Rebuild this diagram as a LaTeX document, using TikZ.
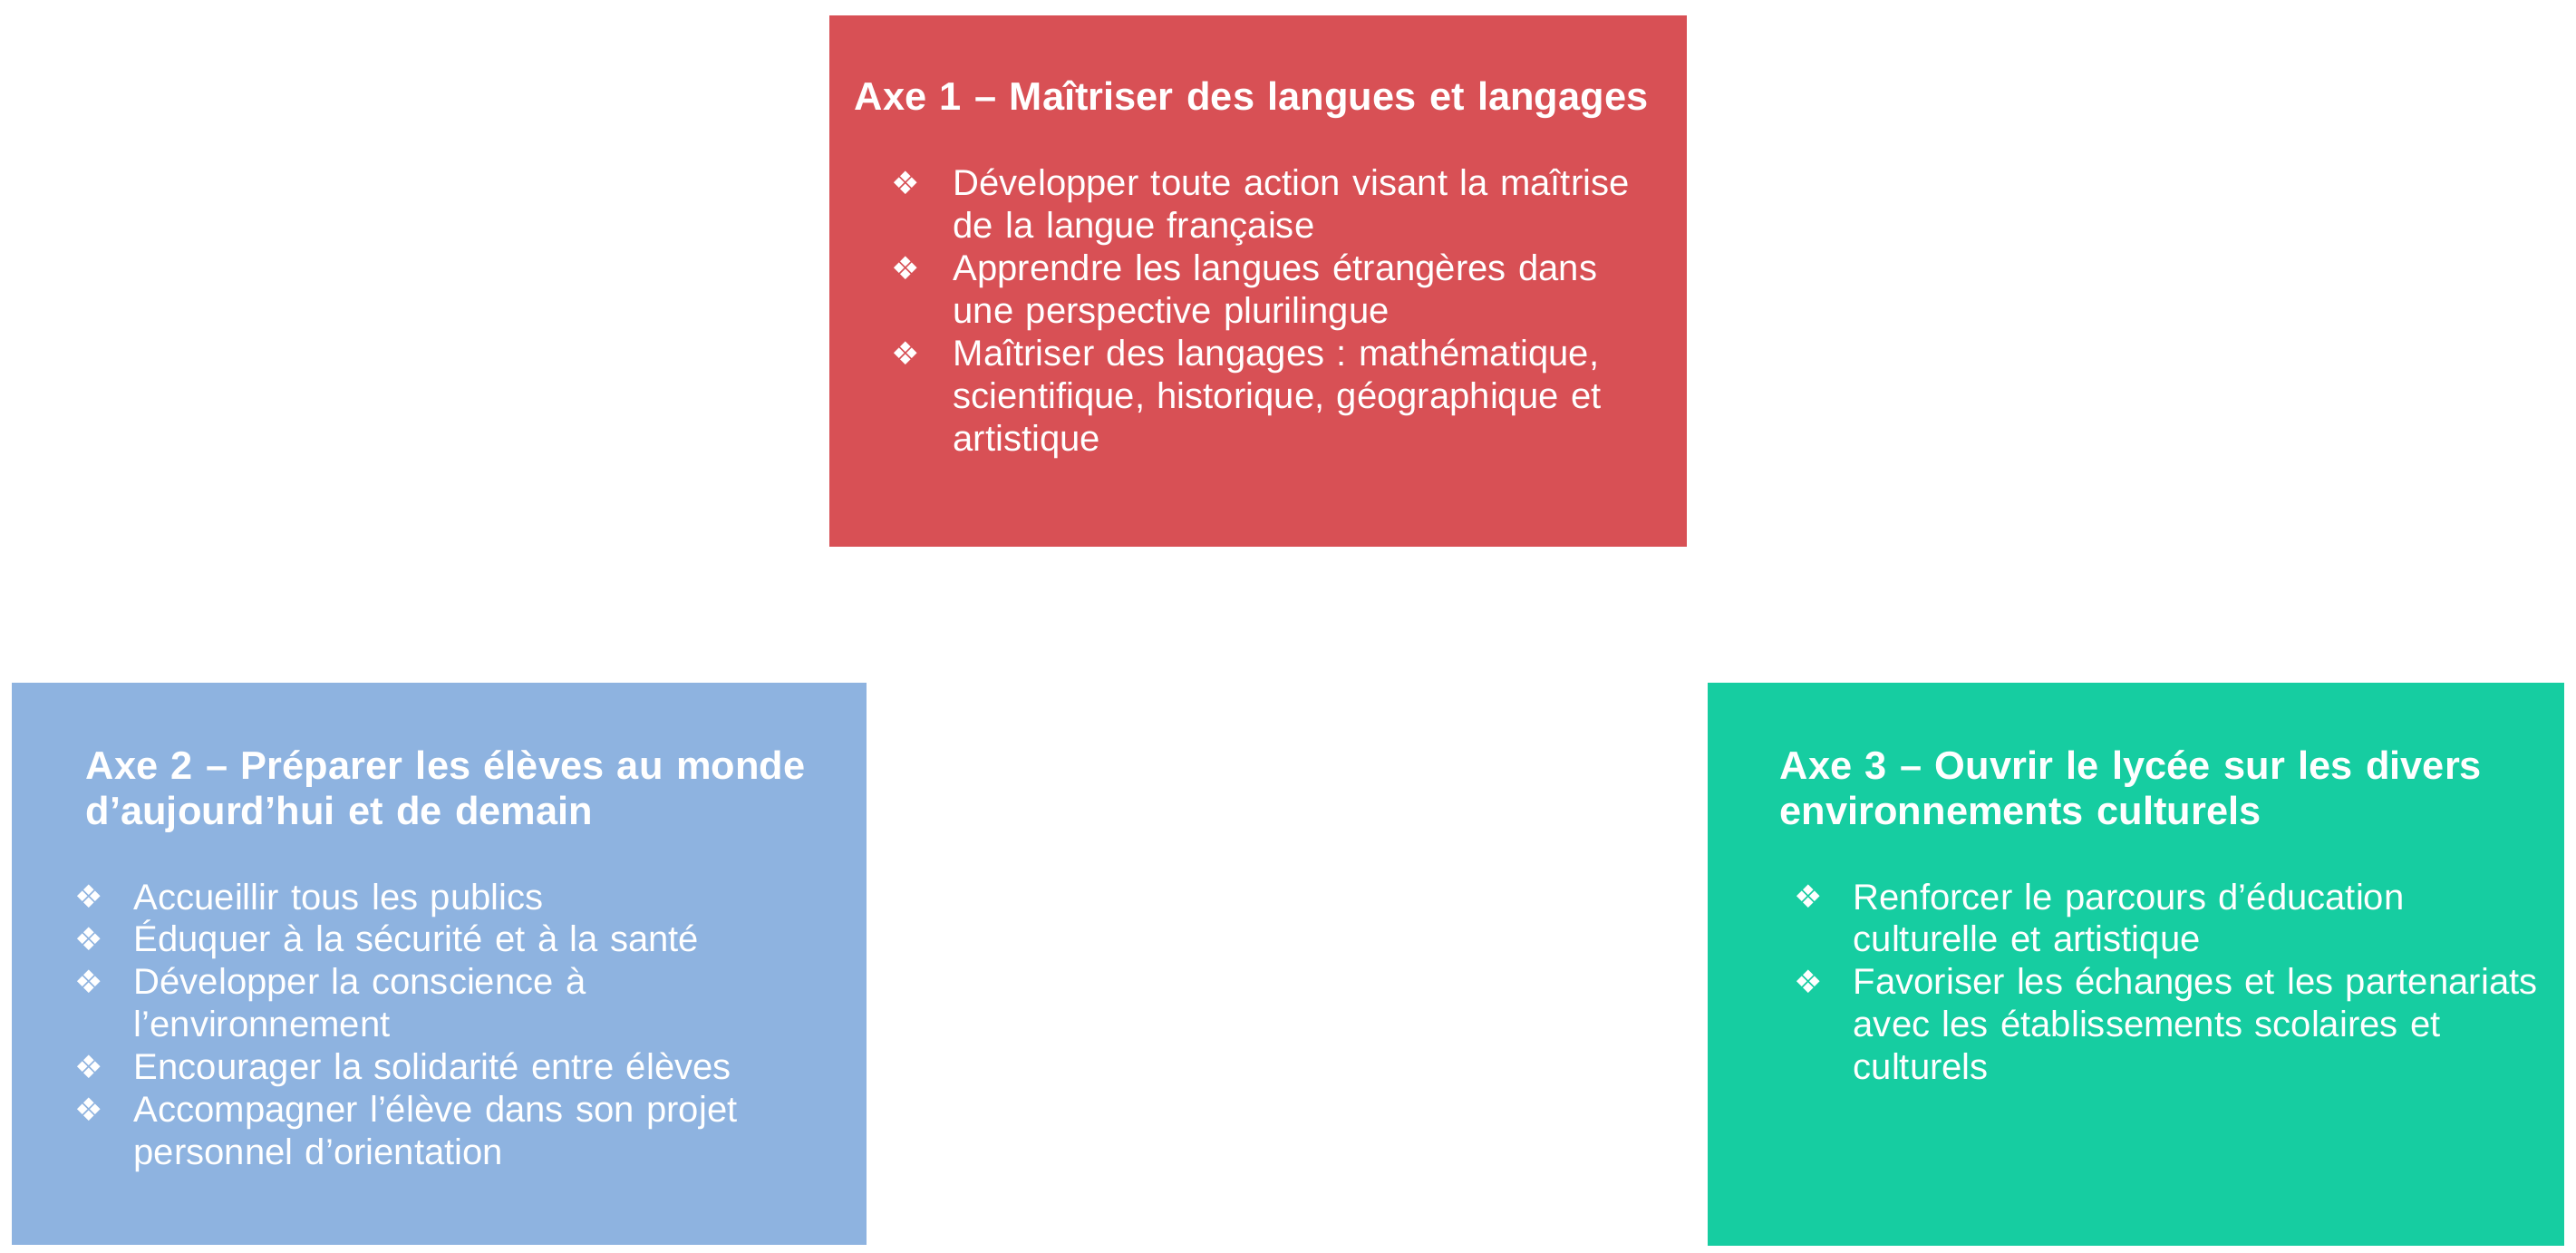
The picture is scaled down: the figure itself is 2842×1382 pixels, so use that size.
\documentclass[tikz,border=0pt]{standalone}
\usepackage{fontspec}
\setmainfont{Liberation Sans}
\newfontfamily\dingfont{DejaVu Sans}
\frenchspacing

\definecolor{axeRed}{RGB}{216,80,85}
\definecolor{axeBlue}{RGB}{142,179,224}
\definecolor{axeGreen}{RGB}{22,205,161}

% diamond bullet, hanging-indent item and a line break that stays in the paragraph
\newcommand{\axbul}{{\dingfont\fontsize{10}{10}\selectfont\raisebox{0.4pt}{❖}}}
\newcommand{\axitem}[1]{\hangindent=#1\hangafter=1\makebox[#1][l]{\axbul}}
\newcommand{\nl}{\hfil\break}

\begin{document}
\begin{tikzpicture}[x=0.1mm,y=-0.1mm,
  axebox/.style={anchor=north west, inner sep=0pt, draw=none},
  axetitle/.style={anchor=base west, inner sep=0pt, text=white, align=left,
    text width=110mm, font=\bfseries\fontsize{12.35}{14.2}\selectfont},
  axebody/.style={anchor=base west, inner sep=0pt, text=white, align=left,
    text width=110mm, font=\fontsize{11.4}{13.37}\selectfont}]
\useasboundingbox (0,0) rectangle (2842,1382);

% the three coloured panels
\node[axebox, fill=axeRed,   minimum width=94.6mm, minimum height=58.6mm] (b1) at (914,16) {};
\node[axebox, fill=axeBlue,  minimum width=94.3mm, minimum height=62.0mm] (b2) at (12,752) {};
\node[axebox, fill=axeGreen, minimum width=94.5mm, minimum height=62.1mm] (b3) at (1883,752) {};

% Axe 1
\node[axetitle] (t1) at (942,122) {Axe 1 – Maîtriser des langues et langages};
\node[axebody] (l1) at (983,216) {%
\axitem{6.8mm}Développer toute action visant la maîtrise\nl de la langue française\par
\axitem{6.8mm}Apprendre les langues étrangères dans\nl une perspective plurilingue\par
\axitem{6.8mm}Maîtriser des langages : mathématique,\nl scientifique, historique, géographique et\nl artistique\par};

% Axe 2
\node[axetitle] (t2) at (94,860) {Axe 2 – Préparer les élèves au monde\nl d’aujourd’hui et de demain};
\node[axebody] (l2) at (82,1003) {%
\axitem{6.5mm}Accueillir tous les publics\par
\axitem{6.5mm}Éduquer à la sécurité et à la santé\par
\axitem{6.5mm}Développer la conscience à\nl l’environnement\par
\axitem{6.5mm}Encourager la solidarité entre élèves\par
\axitem{6.5mm}Accompagner l’élève dans son projet\nl personnel d’orientation\par};

% Axe 3
\node[axetitle] (t3) at (1963,860) {Axe 3 – Ouvrir le lycée sur les divers\nl environnements culturels};
\node[axebody] (l3) at (1979,1003) {%
\axitem{6.5mm}Renforcer le parcours d’éducation\nl culturelle et artistique\par
\axitem{6.5mm}Favoriser les échanges et les partenariats\nl avec les établissements scolaires et\nl culturels\par};
\end{tikzpicture}
\end{document}
